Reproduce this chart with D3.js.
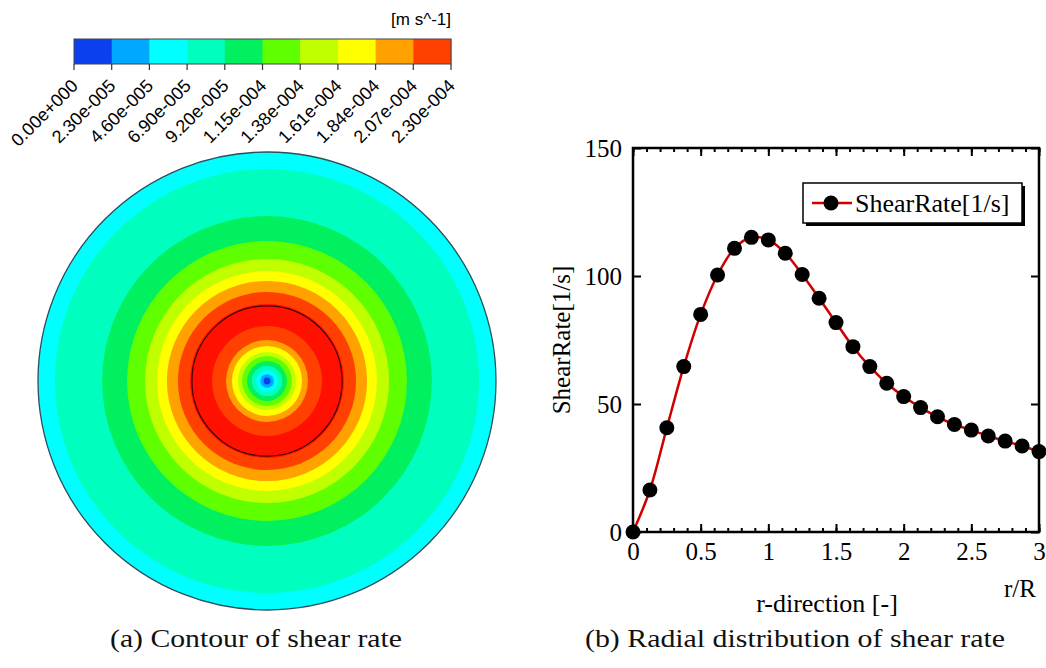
<!DOCTYPE html>
<html>
<head>
<meta charset="utf-8">
<script src="https://cdn.jsdelivr.net/npm/d3@7"></script>
<style>
  body { margin: 0; background: #fff; }
  .cbar text { font-family: 'Liberation Sans', Arial, sans-serif; font-size: 18px; fill: #000; }
  .plot text { font-family: 'Liberation Serif', 'Times New Roman', serif; font-size: 25px; fill: #000; }
  .caption { font-family: 'Liberation Serif', 'Times New Roman', serif; font-size: 25px; fill: #111; }
</style>
</head>
<body>
<svg id="fig" width="1046" height="668"></svg>
<script>
// colour key of the contour plot
const levelColors = ['#0a40f0', '#00a8ff', '#00ffff', '#00ffbf', '#00f060', '#60ff00', '#c0ff00', '#ffff00', '#ffa200', '#ff4000'];
const levelLabels = ['0.00e+000', '2.30e-005', '4.60e-005', '6.90e-005', '9.20e-005', '1.15e-004',
                     '1.38e-004', '1.61e-004', '1.84e-004', '2.07e-004', '2.30e-004'];
const overColor = '#ff1000';   // values above the top level
const unitLabel = '[m s^-1]';

// contour bands, outside in: outer edge (r / disc radius) and level index (10 = above range)
const bandEdges  = [1.0, 0.926, 0.72, 0.611, 0.533, 0.48, 0.437, 0.389, 0.336, 0.24, 0.179, 0.153, 0.127, 0.109, 0.087, 0.066, 0.048, 0.03, 0.015];
const bandLevels = [2, 3, 4, 5, 6, 7, 8, 9, 10, 9, 8, 7, 6, 5, 4, 3, 2, 1, 0];
const markedEdge = 0.328;      // thin black circle

// radial distribution
const radialPos = [0, 0.125, 0.25, 0.375, 0.5, 0.625, 0.75, 0.875, 1, 1.125, 1.25, 1.375, 1.5,
                   1.625, 1.75, 1.875, 2, 2.125, 2.25, 2.375, 2.5, 2.625, 2.75, 2.875, 3];
const shearRate = [0, 16.4, 40.7, 64.6, 85.0, 100.4, 110.8, 115.1, 114.1, 108.9, 100.6, 91.3, 81.8,
                   72.4, 64.6, 58.1, 52.9, 48.6, 45.0, 42.0, 39.8, 37.5, 35.5, 33.6, 31.4];
const xTickValues = [0, 0.5, 1, 1.5, 2, 2.5, 3];
const yTickValues = [0, 50, 100, 150];
const seriesName = 'ShearRate[1/s]';

const svg = d3.select('#fig');

// ---------- (a) colour bar ----------
const cbar = svg.append('g').attr('class', 'cbar');
const levelX = d3.scaleLinear().domain([0, levelColors.length]).range([74, 451]);
const barTop = 39, barH = 25;

cbar.selectAll('rect.level')
    .data(levelColors)
    .join('rect')
    .attr('class', 'level')
    .attr('x', (d, i) => levelX(i))
    .attr('y', barTop)
    .attr('width', (d, i) => levelX(i + 1) - levelX(i) + 0.5)
    .attr('height', barH)
    .attr('fill', d => d);

cbar.append('rect')
    .attr('x', levelX(0)).attr('y', barTop)
    .attr('width', levelX(10) - levelX(0)).attr('height', barH)
    .attr('fill', 'none').attr('stroke', '#444').attr('stroke-width', 1);

cbar.selectAll('line.tick')
    .data(levelLabels)
    .join('line')
    .attr('class', 'tick')
    .attr('x1', (d, i) => levelX(i)).attr('x2', (d, i) => levelX(i))
    .attr('y1', barTop + barH).attr('y2', barTop + barH + 6)
    .attr('stroke', '#333').attr('stroke-width', 1.2);

cbar.selectAll('text.lbl')
    .data(levelLabels)
    .join('text')
    .attr('class', 'lbl')
    .attr('transform', (d, i) => `translate(${levelX(i) + 5},87) rotate(-45)`)
    .attr('text-anchor', 'end')
    .text(d => d);

cbar.append('text')
    .attr('x', levelX(10)).attr('y', 25)
    .attr('text-anchor', 'end')
    .style('font-size', '17px')
    .text(unitLabel);

// ---------- (a) contour disc ----------
const discR = d3.scaleLinear().domain([0, 1]).range([0, 229]);
const disc = svg.append('g').attr('transform', 'translate(267,381)');

disc.selectAll('circle.band')
    .data(bandEdges)
    .join('circle')
    .attr('class', 'band')
    .attr('r', d => discR(d))
    .attr('fill', (d, i) => bandLevels[i] > 9 ? overColor : levelColors[bandLevels[i]]);

disc.append('circle')
    .attr('r', discR(markedEdge))
    .attr('fill', 'none').attr('stroke', '#3a0000').attr('stroke-width', 1.2);

disc.append('circle')
    .attr('r', discR(1))
    .attr('fill', 'none').attr('stroke', '#2c4f5c').attr('stroke-width', 1.3);

// ---------- (b) radial distribution ----------
const margin = {left: 633, top: 148};
const width = 1039 - 633, height = 532 - 148;
const plot = svg.append('g').attr('class', 'plot')
    .attr('transform', `translate(${margin.left},${margin.top})`);

const xScale = d3.scaleLinear().domain([0, 3]).range([0, width]);
const yScale = d3.scaleLinear().domain([0, 150]).range([height, 0]);
const minorX = xScale.ticks(30);

// inward ticks on all four sides, labels only bottom/left
plot.append('g')
    .attr('transform', `translate(0,${height})`)
    .call(d3.axisBottom(xScale).tickValues(xTickValues).tickSize(-8).tickPadding(10).tickFormat(d3.format('')))
    .call(g => g.select('.domain').remove());
plot.append('g')
    .attr('transform', `translate(0,${height})`)
    .call(d3.axisBottom(xScale).tickValues(minorX).tickSize(-4).tickFormat(''))
    .call(g => g.select('.domain').remove());
plot.append('g')
    .call(d3.axisTop(xScale).tickValues(xTickValues).tickSize(-8).tickFormat(''))
    .call(g => g.select('.domain').remove());
plot.append('g')
    .call(d3.axisTop(xScale).tickValues(minorX).tickSize(-4).tickFormat(''))
    .call(g => g.select('.domain').remove());
plot.append('g')
    .call(d3.axisLeft(yScale).tickValues(yTickValues).tickSize(-8).tickPadding(11))
    .call(g => g.select('.domain').remove());
plot.append('g')
    .attr('transform', `translate(${width},0)`)
    .call(d3.axisRight(yScale).tickValues(yTickValues).tickSize(-8).tickFormat(''))
    .call(g => g.select('.domain').remove());

plot.selectAll('.tick line').attr('stroke', '#000').attr('stroke-width', 2);
plot.selectAll('.tick text').style('font-size', '25px').attr('fill', '#000');

plot.append('rect')
    .attr('width', width).attr('height', height)
    .attr('fill', 'none').attr('stroke', '#000').attr('stroke-width', 2.5);

const pts = radialPos.map((x, i) => ({x: x, y: shearRate[i]}));
plot.append('path')
    .datum(pts)
    .attr('fill', 'none')
    .attr('stroke', '#d00000')
    .attr('stroke-width', 2.5)
    .attr('d', d3.line().x(d => xScale(d.x)).y(d => yScale(d.y)).curve(d3.curveCatmullRom));

plot.selectAll('circle.pt')
    .data(pts)
    .join('circle')
    .attr('class', 'pt')
    .attr('cx', d => xScale(d.x))
    .attr('cy', d => yScale(d.y))
    .attr('r', 7.5)
    .attr('fill', '#000');

// legend with drop shadow
const legend = plot.append('g').attr('transform', `translate(${803 - margin.left},${183 - margin.top})`);
legend.append('rect').attr('x', 3).attr('y', 3).attr('width', 219).attr('height', 40).attr('fill', '#000');
legend.append('rect').attr('width', 219).attr('height', 40)
    .attr('fill', '#fff').attr('stroke', '#000').attr('stroke-width', 1.5);
legend.append('line').attr('x1', 9).attr('x2', 49).attr('y1', 20).attr('y2', 20)
    .attr('stroke', '#d00000').attr('stroke-width', 2.5);
legend.append('circle').attr('cx', 28).attr('cy', 20).attr('r', 7.5).attr('fill', '#000');
legend.append('text').attr('x', 52).attr('y', 29).style('font-size', '26px').text(seriesName);

// axis titles
plot.append('text')
    .attr('transform', `translate(-63,${height / 2}) rotate(-90)`)
    .attr('text-anchor', 'middle')
    .text('ShearRate[1/s]');
plot.append('text')
    .attr('x', 827 - margin.left).attr('y', 612 - margin.top)
    .attr('text-anchor', 'middle')
    .style('font-size', '26px')
    .text('r-direction [-]');
plot.append('text')
    .attr('x', width - 3).attr('y', 597 - margin.top)
    .attr('text-anchor', 'end')
    .text('r/R');

// ---------- captions ----------
svg.append('text').attr('class', 'caption')
    .attr('x', 256).attr('y', 647).attr('text-anchor', 'middle')
    .attr('textLength', 292).attr('lengthAdjust', 'spacingAndGlyphs')
    .text('(a) Contour of shear rate');
svg.append('text').attr('class', 'caption')
    .attr('x', 795).attr('y', 647).attr('text-anchor', 'middle')
    .attr('textLength', 420).attr('lengthAdjust', 'spacingAndGlyphs')
    .text('(b) Radial distribution of shear rate');
</script>
</body>
</html>
